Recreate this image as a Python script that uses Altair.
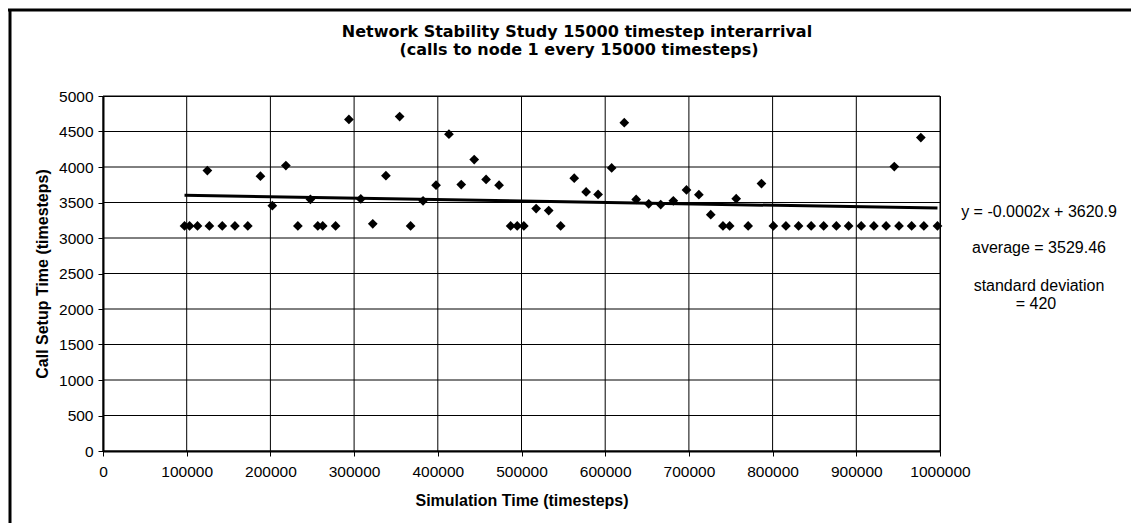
import altair as alt
import pandas as pd

FONT = "Liberation Sans"

# Simulation time (timesteps) and call setup time (timesteps)
sim_time = [
    97400, 103400, 112900, 124700, 127100, 142500, 157600, 173000, 188100, 202300,
    218500, 232800, 247800, 256600, 262500, 277900, 293800, 308000, 322300, 338000,
    354400, 367500, 382400, 397900, 413300, 428000, 443500, 457700, 473200, 487000,
    494900, 502800, 517500, 532500, 546800, 563000, 577200, 591500, 607700, 622800,
    637000, 652000, 666300, 681400, 697100, 711900, 726100, 740700, 748700, 756500,
    770800, 786700, 800900, 815900, 831000, 846100, 861000, 876200, 890800, 905900,
    921000, 935600, 945400, 951000, 966100, 977100, 980700, 997000,
]
setup_time = [
    3170, 3170, 3170, 3950, 3170, 3170, 3170, 3170, 3870, 3455,
    4020, 3170, 3545, 3170, 3170, 3170, 4670, 3550, 3200, 3877,
    4710, 3170, 3524, 3743, 4463, 3753, 4105, 3824, 3743, 3170,
    3170, 3170, 3414, 3386, 3170, 3843, 3649, 3614, 3986, 4624,
    3543, 3481, 3471, 3524, 3677, 3610, 3329, 3170, 3170, 3553,
    3170, 3767, 3170, 3170, 3170, 3170, 3170, 3170, 3170, 3170,
    3170, 3170, 4006, 3170, 3170, 4414, 3170, 3170,
]

# Linear trend as stated on the chart
slope = -0.0002
intercept = 3620.9

x_ticks = list(range(0, 1000001, 100000))
y_ticks = list(range(0, 5001, 500))

title_lines = [
    "Network Stability Study 15000 timestep interarrival",
    "(calls to node 1 every 15000 timesteps)",
]
note_lines = [
    "y = -0.0002x + 3620.9",
    "average = 3529.46",
    "standard deviation",
    "= 420",
]

W, H = 837, 355

pts = pd.DataFrame({"x": sim_time, "y": setup_time})
xs = [min(sim_time), max(sim_time)]
trend = pd.DataFrame({"x": xs, "y": [slope * v + intercept for v in xs]})
xgrid = pd.DataFrame({"x": x_ticks})
ygrid = pd.DataFrame({"y": y_ticks})

xscale = alt.Scale(domain=[0, 1000000], nice=False)
yscale = alt.Scale(domain=[0, 5000], nice=False)

xenc = alt.X(
    "x:Q",
    scale=xscale,
    axis=alt.Axis(
        values=x_ticks,
        format="d",
        title="Simulation Time (timesteps)",
        titleY=49,
        titleBaseline="middle",
        labelPadding=8,
        labelFlush=False,
        labelOverlap=False,
        grid=False,
    ),
)
yenc = alt.Y(
    "y:Q",
    scale=yscale,
    axis=alt.Axis(
        values=y_ticks,
        tickCount=11,
        format="d",
        title="Call Setup Time (timesteps)",
        titleX=-61,
        titleY=H / 2,
        titleAngle=-90,
        titleBaseline="middle",
        labelPadding=5,
        labelFlush=False,
        labelOverlap=False,
        grid=False,
    ),
)

hgrid = alt.Chart(ygrid).mark_rule(color="black", strokeWidth=1).encode(
    y=yenc, x=alt.value(0), x2=alt.value(W)
)
vgrid = alt.Chart(xgrid).mark_rule(color="black", strokeWidth=1).encode(
    x=xenc, y=alt.value(0), y2=alt.value(H)
)

points = alt.Chart(pts).mark_point(
    shape="diamond", filled=True, color="black", size=95, opacity=1
).encode(x=xenc, y=yenc)

line = alt.Chart(trend).mark_line(color="black", strokeWidth=3).encode(
    x=xenc, y=yenc
)

one = pd.DataFrame({"a": [0]})


def text_at(txt, px, py, **kw):
    return alt.Chart(one).mark_text(
        color="black", align="center", baseline="middle", **kw
    ).encode(text=alt.value(txt), x=alt.value(px), y=alt.value(py))


title1 = text_at(title_lines[0], 474, -64, font="DejaVu Sans", fontSize=16, fontWeight="bold")
title2 = text_at(title_lines[1], 476, -46, font="DejaVu Sans", fontSize=16, fontWeight="bold")
n1 = text_at(note_lines[0], 936, 116, font=FONT, fontSize=16)
n2 = text_at(note_lines[1], 936, 152, font=FONT, fontSize=16)
n3 = text_at(note_lines[2], 936, 190, font=FONT, fontSize=16)
n4 = text_at(note_lines[3], 933, 208, font=FONT, fontSize=16)

top_border = alt.Chart(one).mark_rule(color="black", strokeWidth=3).encode(
    x=alt.value(-95), x2=alt.value(1028), y=alt.value(-86)
)
left_border = alt.Chart(one).mark_rule(color="black", strokeWidth=3).encode(
    x=alt.value(-93), y=alt.value(-87), y2=alt.value(427)
)

chart = (
    alt.layer(hgrid, vgrid, points, line, title1, title2, n1, n2, n3, n4, top_border, left_border)
    .properties(
        width=W,
        height=H,
        autosize=alt.AutoSizeParams(type="none"),
        padding={"left": 95, "top": 88, "right": 191, "bottom": 72},
        background="white",
    )
    .configure_view(stroke="black", strokeWidth=1)
    .configure_axis(
        domainColor="black",
        domainWidth=2,
        tickColor="black",
        tickSize=5,
        tickWidth=1,
        labelFont=FONT,
        labelFontSize=15.5,
        labelColor="black",
        titleFont=FONT,
        titleFontSize=16,
        titleFontWeight="bold",
        titleColor="black",
    )
)

chart.save("out.html", embed_options={"renderer": "svg", "actions": False})
